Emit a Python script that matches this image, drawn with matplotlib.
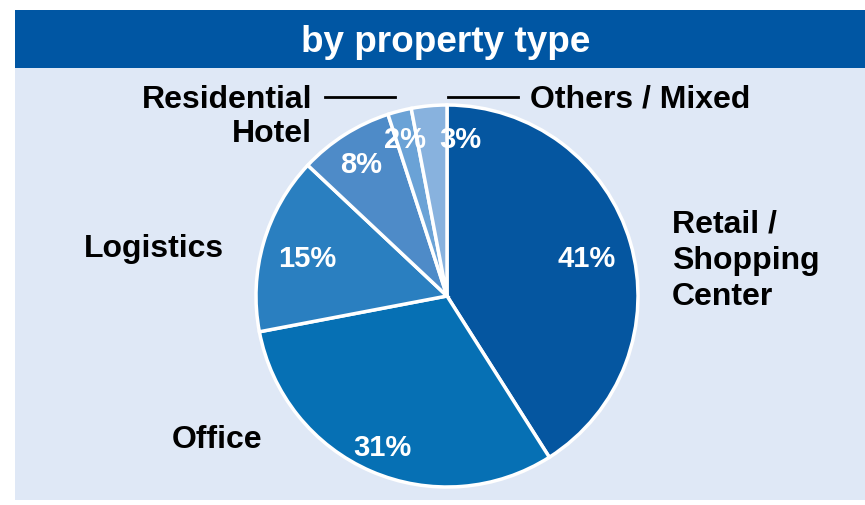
import matplotlib.pyplot as plt
from matplotlib.patches import Rectangle
from matplotlib.lines import Line2D

# Portfolio split by property type (clockwise from 12 o'clock)
categories = ['Retail /\nShopping\nCenter', 'Office', 'Logistics', 'Hotel', 'Residential', 'Others / Mixed']
shares = [41, 31, 15, 8, 2, 3]
colors = ['#0556a0', '#0670b4', '#2a7fc0', '#4e8bc8', '#6aa2d6', '#88b2de']

W, H = 865, 505
plt.rcParams['font.family'] = ['Liberation Sans', 'DejaVu Sans']

fig = plt.figure(figsize=(W / 100, H / 100), dpi=100)
fig.patch.set_facecolor('white')


def px(x, y):
    # pixel position -> figure fraction
    return x / W, 1 - y / H


# panel background and header band
fig.add_artist(Rectangle(px(15, 500), (W - 15) / W, 432 / H, transform=fig.transFigure,
                         facecolor='#dfe8f6', edgecolor='none', zorder=0))
fig.add_artist(Rectangle(px(15, 68), (W - 15) / W, 58 / H, transform=fig.transFigure,
                         facecolor='#0056a3', edgecolor='none', zorder=0))
fig.text(*px(446, 42), 'by property type', color='white', fontsize=26.6, fontweight='bold',
         ha='center', va='center')

# pie axes: centre (447, 296), radius ~191 px
cx, cy, r = 447, 296, 191
ax = fig.add_axes([(cx - r) / W, (H - cy - r) / H, 2 * r / W, 2 * r / H])
wedges, texts, autotexts = ax.pie(
    shares, colors=colors, startangle=90, counterclock=False,
    autopct='%d%%', pctdistance=0.76,
    wedgeprops=dict(edgecolor='white', linewidth=2.5),
    textprops=dict(color='white', fontsize=21, fontweight='bold'))
ax.set_xlim(-1, 1)
ax.set_ylim(-1, 1)
ax.set_aspect('equal')
ax.axis('off')

# nudge the small slice labels like the original
autotexts[1].set_position((-0.34, -0.78))
autotexts[3].set_position((-0.45, 0.70))
autotexts[4].set_position((-0.22, 0.83))
autotexts[5].set_position((0.07, 0.83))
for t in autotexts:
    t.set_va('center_baseline')

# category labels
lab = dict(fontsize=23, fontweight='bold', color='black', va='center')
fig.text(*px(672, 261), categories[0], ha='left', linespacing=1.27, **lab)
fig.text(*px(262, 440), categories[1], ha='right', **lab)
fig.text(*px(224, 249), categories[2], ha='right', **lab)
fig.text(*px(312, 134), categories[3], ha='right', **lab)
fig.text(*px(312, 100), categories[4], ha='right', **lab)
fig.text(*px(530, 99), categories[5], ha='left', **lab)

# leader lines for the thin slices
for x0, x1 in [(325, 395), (448, 518)]:
    fig.add_artist(Line2D([x0 / W, x1 / W], [1 - 97 / H, 1 - 97 / H],
                          transform=fig.transFigure, color='black', linewidth=2))

fig.savefig('out.png', dpi=100)
